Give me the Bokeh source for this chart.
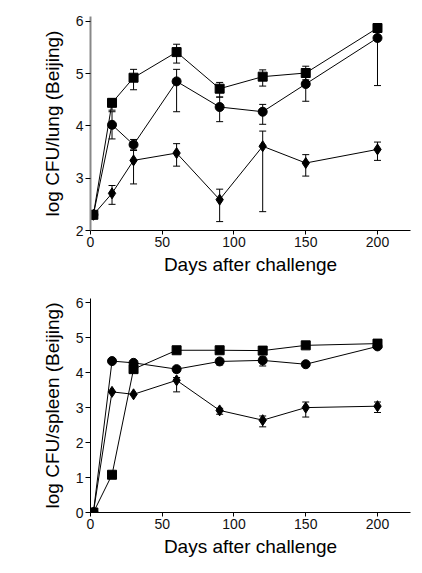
from bokeh.plotting import figure
from bokeh.layouts import column
from bokeh.models import ColumnDataSource, Whisker, TeeHead, Range1d, FixedTicker
from bokeh.embed import file_html
from bokeh.resources import INLINE

# ---- data ----
days = [2, 15, 30, 60, 90, 120, 150, 200]

# lung (top panel)
lung_sq = [2.30, 4.44, 4.92, 5.41, 4.71, 4.94, 5.01, 5.87]
lung_sq_up = [2.30, 4.52, 5.08, 5.56, 4.83, 5.07, 5.14, 5.92]
lung_sq_lo = [2.30, 4.30, 4.69, 5.20, 4.55, 4.76, 4.88, 5.82]

lung_ci = [2.30, 4.02, 3.64, 4.85, 4.36, 4.27, 4.80, 5.68]
lung_ci_up = [2.30, 4.27, 3.74, 5.08, 4.55, 4.41, 5.00, 5.90]
lung_ci_lo = [2.30, 3.75, 3.54, 4.27, 4.08, 4.03, 4.47, 4.77]

lung_di = [2.30, 2.71, 3.34, 3.48, 2.59, 3.61, 3.29, 3.55]
lung_di_up = [2.30, 2.86, 3.53, 3.66, 2.79, 3.90, 3.45, 3.69]
lung_di_lo = [2.30, 2.50, 2.89, 3.23, 2.17, 2.36, 3.04, 3.34]

# spleen (bottom panel)
spl_sq = [0.00, 1.08, 4.10, 4.64, 4.64, 4.63, 4.78, 4.83]
spl_sq_up = [0.00, 1.08, 4.10, 4.64, 4.64, 4.63, 4.78, 4.86]
spl_sq_lo = [0.00, 1.08, 4.10, 4.64, 4.64, 4.63, 4.78, 4.80]

spl_ci = [0.00, 4.33, 4.28, 4.10, 4.32, 4.35, 4.24, 4.75]
spl_ci_up = [0.00, 4.33, 4.28, 4.17, 4.38, 4.45, 4.24, 4.78]
spl_ci_lo = [0.00, 4.33, 4.28, 4.00, 4.22, 4.19, 4.24, 4.72]

spl_di = [0.00, 3.45, 3.38, 3.78, 2.92, 2.64, 3.00, 3.04]
spl_di_up = [0.00, 3.45, 3.38, 3.86, 2.98, 2.76, 3.16, 3.16]
spl_di_lo = [0.00, 3.45, 3.38, 3.45, 2.81, 2.45, 2.73, 2.86]

x_ticks = [0, 50, 100, 150, 200]
lung_ticks = [2, 3, 4, 5, 6]
spleen_ticks = [0, 1, 2, 3, 4, 5, 6]

FONT = "Liberation Sans"


def make_panel(height, y_start, y_end, yticks, ylabel, series, yaxis_color, yaxis_width,
               border_top, border_bottom):
    p = figure(width=414, height=height, output_backend="svg", toolbar_location=None,
               x_range=Range1d(0, 223), y_range=Range1d(y_start, y_end),
               min_border_left=90, min_border_right=4, min_border_top=border_top,
               min_border_bottom=border_bottom)
    p.outline_line_color = None
    p.xgrid.visible = False
    p.ygrid.visible = False
    p.background_fill_color = "white"
    p.border_fill_color = "white"

    p.xaxis.ticker = FixedTicker(ticks=x_ticks)
    p.yaxis.ticker = FixedTicker(ticks=yticks)
    p.xaxis.minor_tick_line_color = None
    p.yaxis.minor_tick_line_color = None
    for ax in (p.xaxis, p.yaxis):
        ax.major_tick_in = 0
        ax.major_label_text_font = FONT
        ax.major_label_text_font_size = "14px"
        ax.major_label_text_color = "#111111"
        ax.axis_label_text_font = FONT
        ax.axis_label_text_font_size = "19px"
        ax.axis_label_text_font_style = "normal"
        ax.axis_label_text_color = "black"
    p.xaxis.major_tick_out = 4
    p.yaxis.major_tick_out = 5
    p.xaxis.major_label_standoff = 2
    p.yaxis.major_label_standoff = 2
    p.xaxis.axis_label_standoff = 4
    p.yaxis.axis_label_standoff = 10
    p.xaxis.axis_line_color = "black"
    p.xaxis.major_tick_line_color = "black"
    p.yaxis.axis_line_color = yaxis_color
    p.yaxis.axis_line_width = yaxis_width
    p.yaxis.major_tick_line_color = "black"
    p.xaxis.axis_label = "Days after challenge"
    p.yaxis.axis_label = ylabel

    for vals, up, lo, marker, size in series:
        src = ColumnDataSource(dict(x=days, y=vals, up=up, lo=lo))
        p.add_layout(Whisker(base="x", upper="up", lower="lo", source=src,
                             line_color="black", line_width=1,
                             upper_head=TeeHead(size=7, line_color="black", line_width=1),
                             lower_head=TeeHead(size=7, line_color="black", line_width=1)))
        p.line("x", "y", source=src, line_color="black", line_width=1)
        p.scatter("x", "y", source=src, marker=marker, size=size,
                  fill_color="black", line_color="black")
    return p


p1 = make_panel(290, 2, 6.09, lung_ticks, "log CFU/lung (Beijing)",
                [(lung_di, lung_di_up, lung_di_lo, "diamond", 11),
                 (lung_ci, lung_ci_up, lung_ci_lo, "circle", 9),
                 (lung_sq, lung_sq_up, lung_sq_lo, "square", 9)],
                "#888888", 2, 16, 60)
p2 = make_panel(272, 0, 6.12, spleen_ticks, "log CFU/spleen (Beijing)",
                [(spl_di, spl_di_up, spl_di_lo, "diamond", 11),
                 (spl_ci, spl_ci_up, spl_ci_lo, "circle", 9),
                 (spl_sq, spl_sq_up, spl_sq_lo, "square", 9)],
                "black", 1, 8, 50)

layout = column(p1, p2)
open("out.html", "w").write(file_html(layout, INLINE))
